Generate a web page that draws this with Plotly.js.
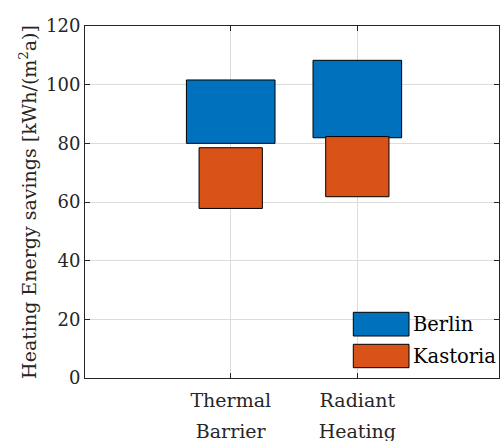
<!DOCTYPE html>
<html>
<head>
<meta charset="utf-8">
<script src="https://cdn.plot.ly/plotly-3.0.1.min.js"></script>
<style>html,body{margin:0;padding:0;background:#fff;}#chart{width:500px;height:441px;}</style>
</head>
<body>
<div id="chart"></div>
<script>
// Data
const categories = ["Thermal<br>Barrier", "Radiant<br>Heating"];
const positions = [1, 2];
const seriesNames = ["Berlin", "Kastoria"];
const berlinLow = [80.0, 81.9];
const berlinHigh = [101.6, 108.3];
const kastoriaLow = [57.8, 61.8];
const kastoriaHigh = [78.5, 82.3];
const yTicks = [0, 20, 40, 60, 80, 100, 120];

const colors = ["#0072BD", "#D95319"];
const font = "DejaVu Serif";

const traces = [
  {
    type: "bar", name: seriesNames[0], x: positions,
    base: berlinLow, y: berlinHigh.map((v, i) => v - berlinLow[i]),
    width: 0.7, marker: {color: colors[0], line: {color: "#000", width: 1}},
    showlegend: false, hoverinfo: "skip"
  },
  {
    type: "bar", name: seriesNames[1], x: positions,
    base: kastoriaLow, y: kastoriaHigh.map((v, i) => v - kastoriaLow[i]),
    width: 0.5, marker: {color: colors[1], line: {color: "#000", width: 1}},
    showlegend: false, hoverinfo: "skip"
  }
];

const L = 85, R = 499, T = 26, B = 378;
const px = v => (v - L) / (R - L);
const py = v => (B - v) / (B - T);

const legendRows = [[312.3, 336], [344.3, 367.7]];
const shapes = [];
const annotations = [];
seriesNames.forEach((n, i) => {
  shapes.push({type: "rect", xref: "paper", yref: "paper",
    x0: px(353.3), x1: px(409), y0: py(legendRows[i][1]), y1: py(legendRows[i][0]),
    fillcolor: colors[i], line: {color: "#000", width: 1}});
  annotations.push({xref: "paper", yref: "paper", x: px(411), y: py((legendRows[i][0] + legendRows[i][1]) / 2),
    xanchor: "left", yanchor: "middle", text: n, showarrow: false,
    font: {family: font, size: 19.5, color: "#000"}});
});

const layout = {
  width: 500, height: 441,
  margin: {l: L, r: 500 - R, t: T, b: 441 - B},
  paper_bgcolor: "#fff", plot_bgcolor: "#fff",
  barmode: "overlay",
  font: {family: font, size: 18, color: "#262626"},
  xaxis: {
    range: [-0.151, 3.119], tickvals: positions, ticktext: categories,
    showgrid: true, gridcolor: "#dcdcdc", gridwidth: 1,
    ticks: "inside", ticklen: 5, tickcolor: "#262626",
    showline: true, linecolor: "#262626", linewidth: 1, mirror: "ticks",
    zeroline: false, ticklabelstandoff: 5,
    tickfont: {family: font, size: 19, color: "#262626"}
  },
  yaxis: {
    range: [0, 120], tickvals: yTicks,
    showgrid: true, gridcolor: "#dcdcdc", gridwidth: 1,
    ticks: "inside", ticklen: 5, tickcolor: "#262626",
    showline: true, linecolor: "#262626", linewidth: 1, mirror: "ticks",
    zeroline: false, tickfont: {family: font, size: 18, color: "#262626"},
    title: {text: "Heating Energy savings [kWh/(m<sup>2</sup>a)]", standoff: 4,
      font: {family: font, size: 19, color: "#262626"}}
  },
  shapes: shapes,
  annotations: annotations
};

function spreadLines() {
  document.querySelectorAll("#chart .xtick text tspan.line").forEach(t => {
    const dy = t.getAttribute("dy");
    if (dy && parseFloat(dy) > 0) t.setAttribute("dy", (parseFloat(dy) * 1.65 / 1.3) + "em");
  });
}

Plotly.newPlot("chart", traces, layout, {displayModeBar: false, staticPlot: true}).then(spreadLines);
</script>
</body>
</html>
